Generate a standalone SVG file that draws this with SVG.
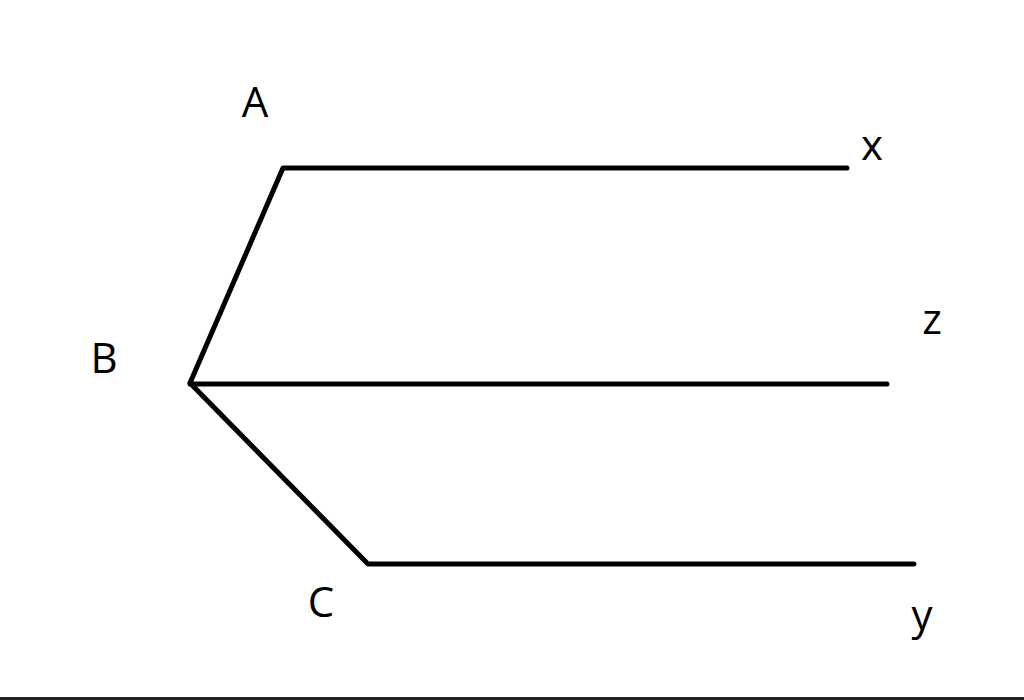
<svg xmlns="http://www.w3.org/2000/svg" width="1024" height="700" viewBox="0 0 1024 700">
<style>
.ln{stroke:#000;stroke-width:5;stroke-linecap:round;stroke-linejoin:round;fill:none}
.lb{font-family:"Open Sans","Liberation Sans",sans-serif;font-size:42px;fill:#000;text-anchor:middle}
</style>
<rect width="1024" height="700" fill="#fff"/>
<g id="connectors">
<polyline class="ln" points="847,168 283,168 190,383 368,564 914,564"/>
<line class="ln" x1="190" y1="384" x2="887" y2="384"/>
</g>
<g id="A"><text class="lb" x="255" y="117">A</text></g>
<g id="B"><text class="lb" x="104" y="373">B</text></g>
<g id="C"><text class="lb" x="321" y="617">C</text></g>
<g id="x"><text class="lb" x="872" y="160">x</text></g>
<g id="z"><text class="lb" x="932" y="334">z</text></g>
<g id="y"><text class="lb" x="922" y="630">y</text></g>
<rect x="0" y="697" width="1024" height="3" fill="#222"/>
</svg>
